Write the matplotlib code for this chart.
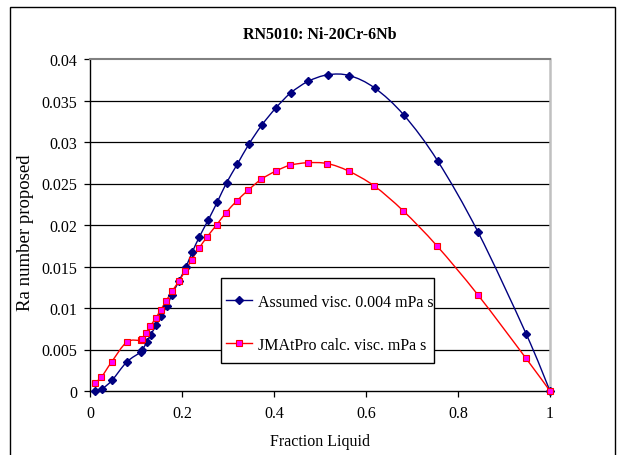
import matplotlib
matplotlib.use("Agg")
import matplotlib.pyplot as plt
from matplotlib.path import Path
from matplotlib.patches import PathPatch, Rectangle
from matplotlib.lines import Line2D
from matplotlib.transforms import Bbox

plt.rcParams["font.family"] = ["Liberation Serif", "DejaVu Serif"]

# values
assumed_x = [0.010, 0.027, 0.048, 0.080, 0.111, 0.113, 0.124, 0.132, 0.144, 0.154,
             0.167, 0.178, 0.193, 0.209, 0.222, 0.238, 0.257, 0.277, 0.297, 0.320,
             0.345, 0.373, 0.404, 0.436, 0.474, 0.517, 0.564, 0.619, 0.683, 0.756,
             0.844, 0.948, 1.000]
assumed_y = [0.0000, 0.0003, 0.0013, 0.0035, 0.0047, 0.0049, 0.0059, 0.0068, 0.0079, 0.0090,
             0.0102, 0.0116, 0.0132, 0.0150, 0.0167, 0.0186, 0.0206, 0.0228, 0.0251, 0.0273,
             0.0297, 0.0320, 0.0341, 0.0359, 0.0373, 0.0381, 0.0380, 0.0365, 0.0332, 0.0277,
             0.0191, 0.0069, 0.0000]

jmat_x = [0.010, 0.025, 0.047, 0.080, 0.111, 0.113, 0.122, 0.131, 0.143, 0.154,
          0.166, 0.178, 0.193, 0.207, 0.221, 0.237, 0.255, 0.275, 0.296, 0.319,
          0.344, 0.372, 0.404, 0.435, 0.473, 0.516, 0.562, 0.618, 0.681, 0.754,
          0.843, 0.947, 1.000]
jmat_y = [0.00096, 0.0017, 0.0035, 0.0059, 0.0061, 0.0063, 0.0070, 0.0078, 0.0088, 0.0098,
          0.0109, 0.0120, 0.0132, 0.0145, 0.0158, 0.0172, 0.0186, 0.0200, 0.0215, 0.0229,
          0.0242, 0.0255, 0.0265, 0.0272, 0.0275, 0.0274, 0.0265, 0.0247, 0.0217, 0.0175,
          0.0116, 0.0040, 0.0000]

label_assumed = "Assumed visc. 0.004 mPa s"
label_jmat = "JMAtPro calc. visc. mPa s"

NAVY = "#000080"
RED = "#FF0000"
MAGENTA = "#FF00FF"
FS = 11.5


def smooth_path(xs, ys):
    """Excel-like smoothed line: Catmull-Rom segments as cubic Beziers."""
    pts = list(zip(xs, ys))
    verts = [pts[0]]
    codes = [Path.MOVETO]
    n = len(pts)
    for i in range(n - 1):
        p0 = pts[max(i - 1, 0)]
        p1 = pts[i]
        p2 = pts[i + 1]
        p3 = pts[min(i + 2, n - 1)]
        c1 = (p1[0] + (p2[0] - p0[0]) / 6, p1[1] + (p2[1] - p0[1]) / 6)
        c2 = (p2[0] - (p3[0] - p1[0]) / 6, p2[1] - (p3[1] - p1[1]) / 6)
        verts += [c1, c2, p2]
        codes += [Path.CURVE4] * 3
    return Path(verts, codes)


fig = plt.figure(figsize=(6.24, 4.56), dpi=100)
ax = fig.add_axes([90 / 624, 64 / 456, 460 / 624, 332 / 456])

# outer chart frame
fig.patches.append(Rectangle((10 / 624, -0.05), 605 / 624, 1.05 - 8 / 456,
                             transform=fig.transFigure, fill=False,
                             edgecolor="black", lw=1.0))

for yv in [0.005 * i for i in range(1, 8)]:
    ax.axhline(yv, color="black", lw=0.9, zorder=1)

ax.add_patch(PathPatch(smooth_path(assumed_x, assumed_y), fill=False,
                       edgecolor=NAVY, lw=1.0, zorder=2))
ax.add_patch(PathPatch(smooth_path(jmat_x, jmat_y), fill=False,
                       edgecolor=RED, lw=1.0, zorder=2))
ax.plot(assumed_x, assumed_y, ls="none", marker="D", ms=4.2,
        color=NAVY, mec=NAVY, zorder=3, clip_on=False)
ax.plot(jmat_x, jmat_y, ls="none", marker="s", ms=5, color=MAGENTA,
        mec=RED, mew=0.8, zorder=4, clip_on=False)

ax.set_xlim(0, 1)
ax.set_ylim(0, 0.04)
ax.set_xticks([0, 0.2, 0.4, 0.6, 0.8, 1])
ax.set_xticklabels(["0", "0.2", "0.4", "0.6", "0.8", "1"])
ax.set_yticks([0.005 * i for i in range(9)])
ax.set_yticklabels(["0", "0.005", "0.01", "0.015", "0.02", "0.025",
                    "0.03", "0.035", "0.04"])
ax.tick_params(axis="both", labelsize=FS, length=4, width=0.9,
               color="black", direction="out")
ax.tick_params(axis="x", pad=6)
ax.tick_params(axis="y", pad=5)

ax.spines["left"].set_color("black")
ax.spines["bottom"].set_color("black")
ax.spines["left"].set_linewidth(1.0)
ax.spines["bottom"].set_linewidth(1.0)
ax.spines["top"].set_color("#808080")
ax.spines["top"].set_linewidth(1.5)
ax.spines["right"].set_color("#C0C0C0")
ax.spines["right"].set_linewidth(1.8)

ax.set_xlabel("Fraction Liquid", fontsize=FS, labelpad=9)

ax.set_title("RN5010: Ni-20Cr-6Nb", fontsize=FS, fontweight="bold", pad=15)

# y label, clipped at the top like in the original
ylab = fig.text(25 / 624, (456 - 311) / 456, "Ra number proposed", rotation=90,
                ha="center", va="bottom", fontsize=13.5)
ylab.set_clip_box(Bbox.from_extents(0, 0, 624, 456 - 155))
ylab.set_clip_on(True)

# legend: frame drawn separately, entries placed inside it
ax.add_patch(Rectangle(((221 - 90) / 460, (392 - 364) / 332), 213 / 460, 85 / 332,
                       transform=ax.transAxes, facecolor="white",
                       edgecolor="black", lw=1.0, zorder=5))
handles = [
    Line2D([], [], color=NAVY, lw=1.0, marker="D", ms=4.2, mec=NAVY),
    Line2D([], [], color=RED, lw=1.0, marker="s", ms=5, mfc=MAGENTA, mec=RED, mew=0.8),
]
leg = ax.legend(handles, [label_assumed, label_jmat], loc="center left",
                bbox_to_anchor=((226 - 90) / 460, (392 - 324.5) / 332),
                fontsize=FS, frameon=False, labelspacing=1.7,
                handlelength=1.6, handletextpad=0.4,
                borderpad=0, borderaxespad=0)
leg.set_zorder(6)

fig.savefig("out.png", dpi=100)
